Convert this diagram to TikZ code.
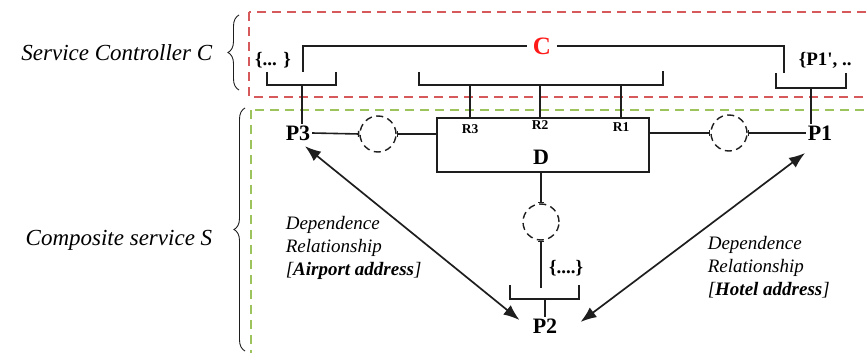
\documentclass[tikz,border=0pt]{standalone}
\usepackage{fontspec}
\setmainfont{Liberation Serif}
\usetikzlibrary{positioning, arrows.meta, decorations.pathreplacing, calc}
\definecolor{ctrlred}{HTML}{D65A5C}
\definecolor{compgreen}{HTML}{9DC35C}
\definecolor{cred}{HTML}{FF1A1A}
\definecolor{inkblack}{HTML}{1E1E1E}

\begin{document}
\begin{tikzpicture}[x=1pt, y=-1pt, line width=1.6pt, draw=inkblack,
    regionbox/.style={dash pattern=on 9pt off 6pt, line width=2pt},
    sidelbl/.style={font=\fontsize{23}{26}\selectfont\itshape, anchor=east, inner sep=0pt},
    port/.style={font=\fontsize{22}{24}\selectfont\bfseries, inner sep=1pt},
    setlbl/.style={font=\fontsize{19}{22}\selectfont\bfseries, inner sep=1pt},
    rlbl/.style={font=\fontsize{13.5}{15}\selectfont\bfseries, inner sep=0pt},
    slot/.style={circle, draw, dash pattern=on 7pt off 4.5pt, minimum size=36pt,
                 inner sep=0pt, line width=1.4pt},
    note/.style={font=\fontsize{19}{23}\selectfont\itshape, align=left, anchor=west, inner sep=0pt},
    tick/.style={-{Bar[width=6pt, line width=1.4pt]}},
    dep/.style={{Latex[length=16pt, width=12pt]}-{Latex[length=16pt, width=12pt]}, line width=1.7pt},
    brc/.style={decorate, decoration={brace, amplitude=11pt}, line width=0.9pt}]
  \useasboundingbox (0,0) rectangle (867,353);

  \node[sidelbl] (svcC) at (213,53) {Service Controller C};
  \node[sidelbl] (compS) at (213,240) {Composite service S};
  \draw[brc] (239,90) -- (239,15);
  \draw[brc] (245,351) -- (245,108);

  \draw[regionbox, ctrlred] (249,12) rectangle (885,97);
  \draw[regionbox, compgreen] (251,110) rectangle (885,375);

  \node[font=\fontsize{25}{27}\selectfont\bfseries, text=cred, inner sep=5pt] (C) at (542,46) {C};
  \node[setlbl] (setL) at (273,60) {\{... \}};
  \node[setlbl, anchor=west] (setR) at (797,60) {\{P1\textquotesingle, ..};

  \coordinate (cl) at (303,72);
  \coordinate (cr) at (784,73);
  \draw (cl) |- (C);
  \draw (C) -| (cr);

  \draw (267,72) -- (267,85) -- (336,85) -- (336,72);
  \draw (419,72) -- (419,85) -- (663,85) -- (663,71);
  \draw (776,73) -- (776,88) -- (846,88) -- (846,73);

  \node[draw, minimum width=212pt, minimum height=54pt, inner sep=0pt] (D) at (543,145) {};
  \node[port] (Dlbl) at (541,157) {D};
  \foreach \x/\y/\n in {470/129/3, 540/125/2, 621/127/1} {
    \draw (\x,85) -- (\x,118);
    \node[rlbl] (R\n) at (\x,\y) {R\n};
  }

  \node[port] (P3) at (298,133) {P3};
  \node[port] (P1) at (820,133) {P1};
  \node[port] (P2) at (545,326) {P2};
  \coordinate (stemL) at (302,85);
  \coordinate (stemR) at (811,88);
  \coordinate (stemB) at (545,299);
  \draw (stemL) -- (P3.north -| stemL);
  \draw (stemR) -- (P1.north -| stemR);
  \draw (stemB) -- (P2);

  \node[slot] (c3) at (378,134) {};
  \node[slot] (c1) at (729,133) {};
  \node[slot] (c2) at (541,222) {};
  \draw[tick] (P3.east) -- (c3.west);
  \draw[tick] (D.west |- c3) -- (c3.east);
  \draw[tick] (D.east |- c1) -- (c1.west);
  \draw[tick] (P1.west) -- (c1.east);
  \draw[tick] (D.south -| c2) -- (c2.north);
  \coordinate (c2end) at (541,288);
  \draw[tick] (c2end) -- (c2.south);

  \draw (510,285) -- (510,299) -- (579,299) -- (579,285);
  \node[setlbl] (setB) at (566,268) {\{....\}};

  \draw[dep] ([shift={(7,4)}]P3.south) -- ([shift={(-11.5,-6)}]P2.west);
  \draw[dep] ([shift={(-15,11)}]P1.south) -- ([shift={(21.5,-4)}]P2.east);

  \node[note] (depL) at (285,248) {Dependence\\Relationship\\{[\textbf{Airport address}]}};
  \node[note] (depR) at (707,267) {Dependence\\Relationship\\{[\textbf{Hotel address}]}};
\end{tikzpicture}
\end{document}
